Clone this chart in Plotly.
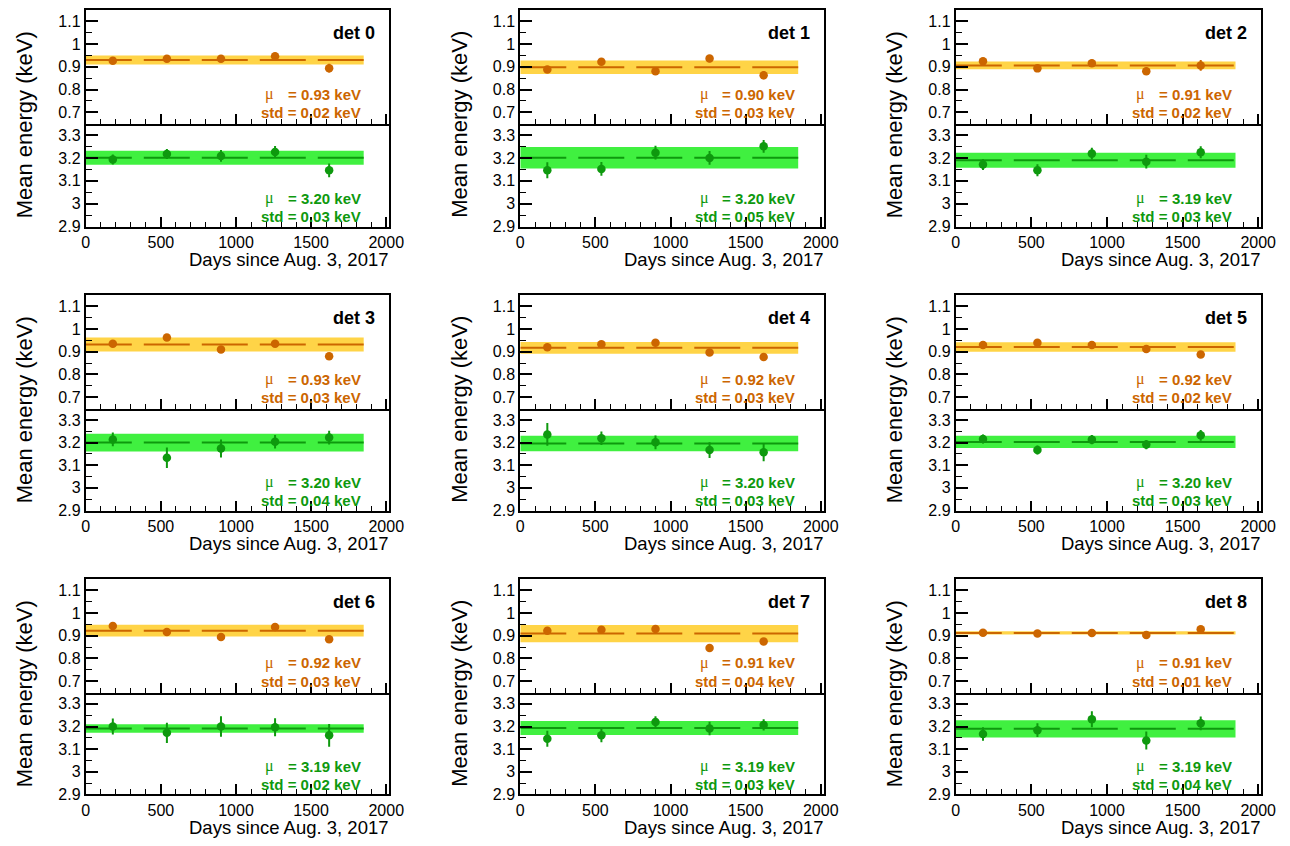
import plotly.graph_objects as go

# ---------------- data ----------------
DAYS = [180, 540, 900, 1260, 1620]
BAND_X = [0, 1850]
DET_LABELS = ["det 0", "det 1", "det 2", "det 3", "det 4", "det 5", "det 6", "det 7", "det 8"]

# low-energy line (~0.9 keV)
LOW_E = [
    [0.927, 0.935, 0.935, 0.946, 0.894],
    [0.888, 0.922, 0.880, 0.936, 0.863],
    [0.924, 0.893, 0.916, 0.880, 0.906],
    [0.935, 0.962, 0.910, 0.935, 0.880],
    [0.920, 0.933, 0.939, 0.897, 0.877],
    [0.929, 0.939, 0.930, 0.912, 0.888],
    [0.942, 0.916, 0.894, 0.938, 0.884],
    [0.922, 0.926, 0.929, 0.846, 0.874],
    [0.913, 0.910, 0.912, 0.903, 0.928],
]
LOW_ERR = [
    [0.007, 0.007, 0.014, 0.016, 0.019],
    [0.007, 0.007, 0.010, 0.016, 0.018],
    [0.012, 0.012, 0.016, 0.016, 0.024],
    [0.007, 0.007, 0.007, 0.014, 0.014],
    [0.006, 0.007, 0.007, 0.007, 0.010],
    [0.005, 0.006, 0.006, 0.006, 0.006],
    [0.007, 0.007, 0.012, 0.014, 0.014],
    [0.005, 0.005, 0.006, 0.010, 0.012],
    [0.005, 0.005, 0.005, 0.005, 0.015],
]
LOW_MEAN = [0.930, 0.898, 0.906, 0.932, 0.917, 0.921, 0.922, 0.909, 0.912]
LOW_STD = [0.020, 0.030, 0.017, 0.031, 0.026, 0.021, 0.026, 0.038, 0.007]

# high-energy line (~3.2 keV)
HIGH_E = [
    [3.193, 3.217, 3.209, 3.226, 3.146],
    [3.146, 3.152, 3.223, 3.200, 3.251],
    [3.171, 3.146, 3.219, 3.184, 3.225],
    [3.214, 3.133, 3.174, 3.204, 3.222],
    [3.236, 3.219, 3.201, 3.167, 3.157],
    [3.216, 3.167, 3.213, 3.191, 3.232],
    [3.200, 3.172, 3.200, 3.197, 3.161],
    [3.146, 3.161, 3.220, 3.191, 3.207],
    [3.167, 3.184, 3.232, 3.138, 3.214],
]
HIGH_ERR = [
    [0.022, 0.022, 0.026, 0.026, 0.030],
    [0.035, 0.030, 0.030, 0.030, 0.028],
    [0.024, 0.026, 0.026, 0.030, 0.026],
    [0.030, 0.045, 0.040, 0.030, 0.030],
    [0.050, 0.030, 0.030, 0.035, 0.040],
    [0.020, 0.020, 0.020, 0.020, 0.024],
    [0.035, 0.045, 0.045, 0.040, 0.050],
    [0.035, 0.030, 0.025, 0.030, 0.025],
    [0.030, 0.030, 0.035, 0.040, 0.030],
]
HIGH_MEAN = [3.201, 3.201, 3.190, 3.200, 3.196, 3.203, 3.191, 3.193, 3.190]
HIGH_STD = [0.031, 0.047, 0.033, 0.039, 0.034, 0.027, 0.019, 0.031, 0.038]

LOW_RANGE = [0.65, 1.15]
HIGH_RANGE = [2.9, 3.35]
X_RANGE = [0, 2020]

# ---------------- style ----------------
W, H = 1290, 846
ORANGE = "#CC6600"
YELLOW = "#FFD447"
GREEN = "#0E990E"
LGREEN = "#40F040"
FONT = "Liberation Sans, Arial, Helvetica, sans-serif"

COL_X = [(83, 391), (524, 832), (966, 1276)]
ROW_Y = [(10, 125, 229), (298, 413, 516), (585, 700, 803)]


def fx(px):
    return px / W


def fy(py):
    return 1 - py / H


fig = go.Figure()
layout = dict(
    width=W, height=H,
    margin=dict(l=0, r=0, t=0, b=0),
    paper_bgcolor="white", plot_bgcolor="white",
    showlegend=False,
    font=dict(family=FONT, color="black"),
)
annotations = []


def axname(n, kind):
    return kind if n == 1 else f"{kind}{n}"


for d in range(9):
    r, c = divmod(d, 3)
    x0, x1 = COL_X[c]
    yt, ym, yb = ROW_Y[r]
    for part in range(2):
        n = d * 2 + part + 1
        xa, ya = axname(n, "x"), axname(n, "y")
        if part == 0:
            vals, errs, mean, std = LOW_E[d], LOW_ERR[d], LOW_MEAN[d], LOW_STD[d]
            col, bcol, rng = ORANGE, YELLOW, LOW_RANGE
            ydom = [fy(ym), fy(yt)]
        else:
            vals, errs, mean, std = HIGH_E[d], HIGH_ERR[d], HIGH_MEAN[d], HIGH_STD[d]
            col, bcol, rng = GREEN, LGREEN, HIGH_RANGE
            ydom = [fy(yb), fy(ym)]

        # band (mean +/- std)
        fig.add_trace(go.Scatter(
            x=[BAND_X[0], BAND_X[1], BAND_X[1], BAND_X[0]],
            y=[mean - std, mean - std, mean + std, mean + std],
            fill="toself", fillcolor=bcol, line=dict(width=0),
            mode="lines", hoverinfo="skip", xaxis=xa, yaxis=ya))
        # mean line
        fig.add_trace(go.Scatter(
            x=BAND_X, y=[mean, mean], mode="lines",
            line=dict(color=col, width=2, dash="46px,12px"),
            xaxis=xa, yaxis=ya))
        # points
        fig.add_trace(go.Scatter(
            x=DAYS, y=vals, mode="markers",
            marker=dict(color=col, size=8.5),
            error_y=dict(type="data", array=errs, thickness=2, width=0, color=col),
            xaxis=xa, yaxis=ya))

        layout[axname(n, "xaxis")] = dict(
            domain=[fx(x0), fx(x1)], range=X_RANGE, anchor=ya,
            showline=True, mirror=(part == 0), linecolor="black", linewidth=2,
            showgrid=False, zeroline=False,
            ticks="inside", ticklen=10, tickwidth=1.5, tickcolor="black",
            dtick=500, tick0=0,
            minor=dict(ticks="inside", ticklen=5, dtick=100, tickcolor="black", tickwidth=1),
            showticklabels=(part == 1),
            tickfont=dict(size=16, family=FONT, color="black"),
        )
        layout[axname(n, "yaxis")] = dict(
            domain=ydom, range=rng, anchor=xa,
            showline=True, mirror=True, linecolor="black", linewidth=2,
            showgrid=False, zeroline=False,
            ticks="inside", ticklen=12, tickwidth=1.5, tickcolor="black",
            dtick=0.1, tick0=0,
            minor=dict(ticks="inside", ticklen=6, dtick=0.05, tickcolor="black", tickwidth=1),
            tickfont=dict(size=16, family=FONT, color="black"),
        )

        xd, yd = f"{xa} domain", f"{ya} domain"
        if part == 0:
            annotations.append(dict(
                text=f"<b>{DET_LABELS[d]}</b>", xref=xd, yref=yd, x=0.96, y=0.80,
                xanchor="right", yanchor="middle", showarrow=False,
                font=dict(size=18, family=FONT, color="black")))
            ymu, ystd = 0.26, 0.10
        else:
            ymu, ystd = 0.275, 0.10
        annotations.append(dict(
            text="μ", xref=xd, yref=yd, x=0.584, y=ymu, xanchor="left", yanchor="middle",
            showarrow=False, font=dict(size=16, family="Liberation Serif, serif", color=col)))
        annotations.append(dict(
            text=f"<b>= {mean:.2f} keV</b>", xref=xd, yref=yd, x=0.912, y=ymu,
            xanchor="right", yanchor="middle", showarrow=False,
            font=dict(size=15, family=FONT, color=col)))
        annotations.append(dict(
            text=f"<b>std = {std:.2f} keV</b>", xref=xd, yref=yd, x=0.912, y=ystd,
            xanchor="right", yanchor="middle", showarrow=False,
            font=dict(size=15, family=FONT, color=col)))

    # axis titles
    annotations.append(dict(
        text="Days since Aug. 3, 2017", xref="paper", yref="paper",
        x=fx(x1 + 2), y=fy(yb + 33), xanchor="right", yanchor="middle", showarrow=False,
        font=dict(size=18.5, family=FONT, color="black")))
    annotations.append(dict(
        text="Mean energy (keV)", xref="paper", yref="paper",
        x=fx(x0 - 62), y=fy(yt + 116), xanchor="center", yanchor="middle",
        textangle=-90, showarrow=False,
        font=dict(size=22, family=FONT, color="black")))

layout["annotations"] = annotations
fig.update_layout(**layout)
fig.write_html("out.html")
